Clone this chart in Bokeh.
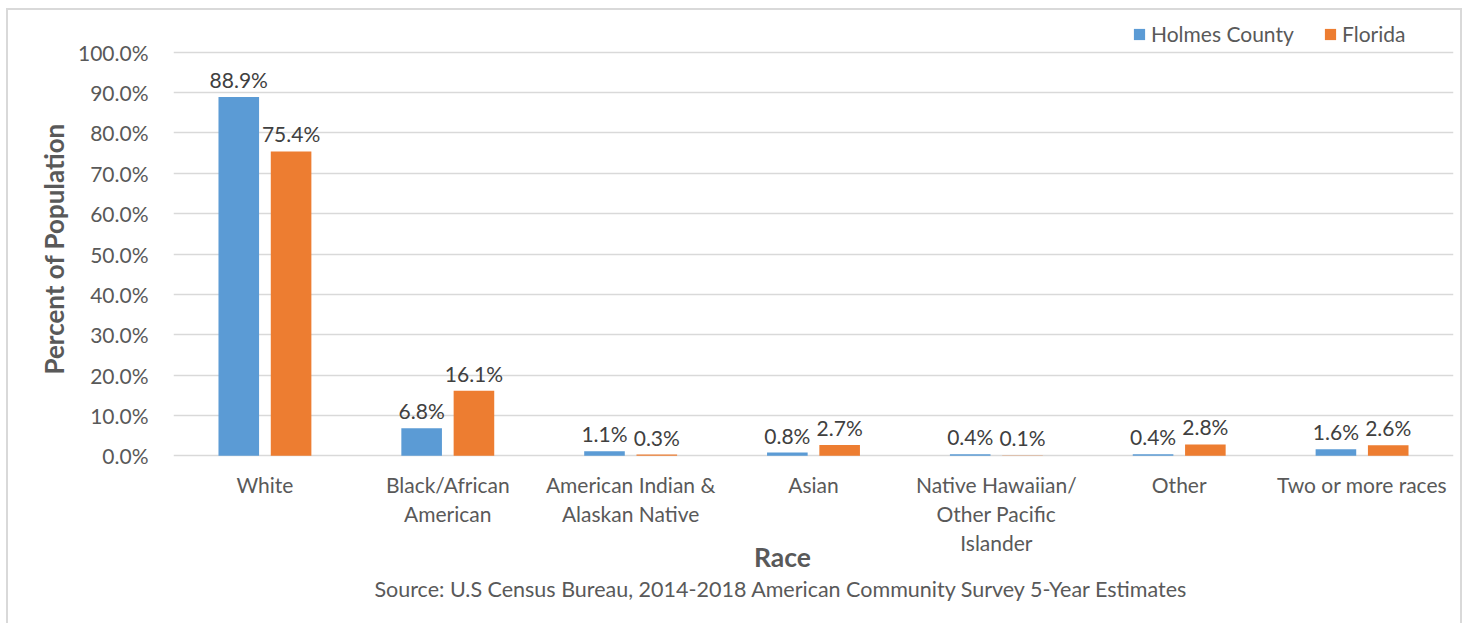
from bokeh.plotting import figure
from bokeh.models import (ColumnDataSource, FactorRange, Range1d, Legend, LegendItem, Label,
                          Title, PrintfTickFormatter, FixedTicker)
from bokeh.transform import dodge
from bokeh.embed import file_html
from bokeh.resources import INLINE
from bokeh.core.properties import value

races = ["White", "Black/African\nAmerican", "American Indian &\nAlaskan Native", "Asian",
         "Native Hawaiian/\nOther Pacific\nIslander", "Other", "Two or more races"]
holmes = [88.9, 6.8, 1.1, 0.8, 0.4, 0.4, 1.6]
florida = [75.4, 16.1, 0.3, 2.7, 0.1, 2.8, 2.6]
y_ticks = [0, 10, 20, 30, 40, 50, 60, 70, 80, 90, 100]

FONT = "Lato"
TXT = "#595959"
BLUE = "#5B9BD5"
ORANGE = "#ED7D31"
GRID = "#D9D9D9"

W, H = 1468, 623
src = ColumnDataSource(dict(
    race=races, holmes=holmes, florida=florida,
    holmes_lbl=[f"{v:.1f}%" for v in holmes],
    florida_lbl=[f"{v:.1f}%" for v in florida],
    zero=[0] * len(races),
))

# layout (canvas pixels)
ZERO_Y, HUNDRED_Y = 455.3, 51.7
PX = (ZERO_Y - HUNDRED_Y) / 100.0
p = figure(x_range=FactorRange(*races),
           y_range=Range1d(-(H - ZERO_Y) / PX, 100 + HUNDRED_Y / PX),
           width=W, height=H, output_backend="svg", toolbar_location=None,
           min_border_left=173, min_border_right=15, min_border_top=0, min_border_bottom=0)
p.background_fill_color = None
p.border_fill_color = None
g = "linear-gradient(#D9D9D9,#D9D9D9)"
p.styles = {"background": (f"{g} 6px 8px / 2px calc(100% - 8px) no-repeat, "
                           f"{g} 6px 8px / 1456px 2px no-repeat, "
                           f"{g} 1460px 8px / 2px calc(100% - 8px) no-repeat, #FFFFFF")}
p.outline_line_color = None
p.xaxis.visible = False

off = 0.143
w = 0.222
r1 = p.vbar(x=dodge("race", -off, range=p.x_range), top="holmes", bottom=0, width=w,
            source=src, fill_color=BLUE, line_color=None)
r2 = p.vbar(x=dodge("race", off, range=p.x_range), top="florida", bottom=0, width=w,
            source=src, fill_color=ORANGE, line_color=None)

for col, lbl, o in (("holmes", "holmes_lbl", -off), ("florida", "florida_lbl", off)):
    p.text(x=dodge("race", o, range=p.x_range), y=col, text=lbl, source=src,
           text_font=value(FONT), text_font_size="21px", text_color="#404040",
           text_align="center", text_baseline="alphabetic", y_offset=-17.5)

# category labels under the zero line
p.text(x="race", y="zero", text="race", source=src, text_font=value(FONT),
       text_font_size="21px", text_color=TXT, text_align="center", text_baseline="top",
       text_line_height=1.17, y_offset=16)

# grid
p.xgrid.grid_line_color = None
p.ygrid.grid_line_color = GRID
p.ygrid.grid_line_width = 1.6
p.yaxis.ticker = FixedTicker(ticks=y_ticks)
p.ygrid.ticker = FixedTicker(ticks=y_ticks)
p.yaxis.formatter = PrintfTickFormatter(format="%.1f%%")

ax = p.yaxis[0]
ax.axis_line_color = None
ax.major_tick_line_color = None
ax.minor_tick_line_color = None
ax.major_tick_out = 0
ax.major_tick_in = 0
ax.major_label_text_font = FONT
ax.major_label_text_font_size = "21px"
ax.major_label_text_color = TXT
ax.major_label_standoff = 25

p.add_layout(Title(text="Percent of Population", align="left", offset=249,
                   text_font=FONT, text_font_size="26px", text_font_style="bold",
                   text_color=TXT, standoff=10), "left")

p.add_layout(Label(x=609, y=67, x_units="screen", y_units="screen", text="Race",
                   text_font=FONT, text_font_size="26.5px", text_font_style="bold",
                   text_color=TXT, text_align="center", text_baseline="middle"))
p.add_layout(Label(x=608, y=35, x_units="screen", y_units="screen",
                   text="Source: U.S Census Bureau, 2014-2018 American Community Survey 5-Year Estimates",
                   text_font=FONT, text_font_size="21.5px",
                   text_color=TXT, text_align="center", text_baseline="middle"))

legend = Legend(items=[LegendItem(label="Holmes County", renderers=[r1]),
                       LegendItem(label="Florida", renderers=[r2])],
                orientation="horizontal", location=(959, 577),
                glyph_width=14, glyph_height=14, label_standoff=5, spacing=27,
                label_width=145,
                padding=0, margin=0, border_line_color=None, background_fill_alpha=0,
                label_text_font=FONT, label_text_font_size="21px", label_text_color=TXT)
p.add_layout(legend, "center")

open("out.html", "w").write(file_html(p, INLINE))
